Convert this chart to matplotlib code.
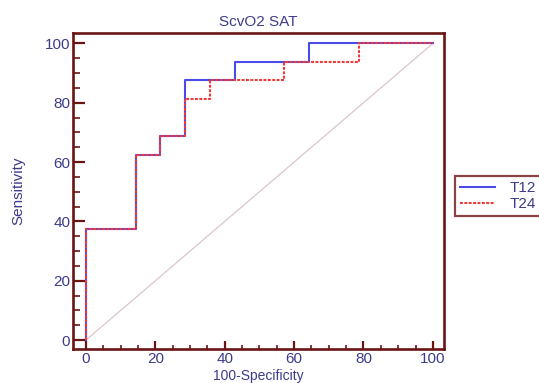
# Curva ROC - ScvO2 SAT (T12 x T24)

import matplotlib
matplotlib.use("Agg")
from matplotlib import pyplot as plt
from matplotlib.ticker import MultipleLocator

plt.rcParams['font.family'] = ['Liberation Sans', 'DejaVu Sans']

# pontos da curva (100-especificidade, sensibilidade)
t12_x = [0, 0, 14.29, 14.29, 21.43, 21.43, 28.57, 28.57, 42.86, 42.86, 64.29, 64.29, 100]
t12_y = [0, 37.5, 37.5, 62.5, 62.5, 68.75, 68.75, 87.5, 87.5, 93.75, 93.75, 100, 100]

t24_x = [0, 0, 14.29, 14.29, 21.43, 21.43, 28.57, 28.57, 35.71, 35.71, 57.14, 57.14, 78.57, 78.57, 100]
t24_y = [0, 37.5, 37.5, 62.5, 62.5, 68.75, 68.75, 81.25, 81.25, 87.5, 87.5, 93.75, 93.75, 100, 100]

diag = [0, 100]
ticks = [0, 20, 40, 60, 80, 100]

maroon = '#6b1414'
azul_txt = '#3c3c8c'

fig = plt.figure(figsize=(5.39, 3.83), dpi=100)
bottom = 34 / 383
height = 316 / 383
ax = fig.add_axes([0.1354, bottom, 0.6883, height])

ax.plot(diag, diag, color='#dcc6c6', lw=0.9, zorder=1)
ax.plot(t12_x, t12_y, color='#4a4ae6', lw=1.5, label='T12', zorder=2)
ax.plot(t24_x, t24_y, color='#f03a3a', lw=1.5, ls=(0, (1.4, 0.7)), label='T24', zorder=3)

ax.set_xlim(-3.75, 103.2)
ax.set_ylim(-3.0, 103.5)
ax.set_xticks(ticks)
ax.set_yticks(ticks)
ax.xaxis.set_minor_locator(MultipleLocator(5))
ax.yaxis.set_minor_locator(MultipleLocator(5))

for s in ax.spines.values():
    s.set_color(maroon)
    s.set_linewidth(1.9)

ax.tick_params(axis='y', which='major', direction='in', length=8.6, width=1.6,
               color=maroon, labelcolor=azul_txt, labelsize=11, pad=2)
ax.tick_params(axis='y', which='minor', direction='in', length=4.7, width=1.2, color=maroon)
ax.tick_params(axis='x', which='major', direction='in', length=6, width=1.6,
               color=maroon, labelcolor=azul_txt, labelsize=11, pad=2)
ax.tick_params(axis='x', which='minor', direction='in', length=3, width=1.2, color=maroon)

ax.set_title("ScvO2 SAT", color=azul_txt, fontsize=11, pad=5)
ax.set_xlabel("100-Specificity", color=azul_txt, fontsize=10, va='bottom')
# rotulo encostado na borda de baixo da figura
ax.xaxis.set_label_coords(0.5, -bottom / height + 0.001)
ax.set_ylabel("Sensitivity", color=azul_txt, fontsize=11, labelpad=14)

leg = fig.legend(loc='upper left', bbox_to_anchor=(455 / 539, 1 - 176 / 383),
                 borderaxespad=0, fancybox=False, fontsize=11, handlelength=2.3,
                 handletextpad=0.9, borderpad=0.35, labelspacing=0.1,
                 labelcolor=azul_txt)
leg.get_frame().set_edgecolor(maroon)
leg.get_frame().set_linewidth(1.6)

fig.savefig("out.png", dpi=100)
